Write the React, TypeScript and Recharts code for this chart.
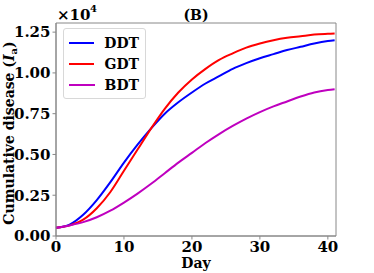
import { LineChart, Line, XAxis, YAxis, ReferenceArea } from "recharts";

const days = [0, 2, 4, 6, 8, 10, 12, 14, 16, 18, 20, 22, 24, 26, 28, 30, 32, 34, 36, 38, 40, 41];
const ddt = [0.05, 0.07, 0.13, 0.22, 0.33, 0.45, 0.56, 0.66, 0.75, 0.82, 0.88, 0.935, 0.98, 1.025, 1.06, 1.09, 1.115, 1.14, 1.16, 1.18, 1.195, 1.2];
const gdt = [0.05, 0.065, 0.1, 0.17, 0.27, 0.4, 0.53, 0.66, 0.78, 0.88, 0.96, 1.025, 1.08, 1.12, 1.155, 1.18, 1.2, 1.215, 1.225, 1.235, 1.24, 1.242];
const bdt = [0.05, 0.065, 0.085, 0.115, 0.155, 0.205, 0.26, 0.32, 0.385, 0.45, 0.51, 0.57, 0.625, 0.675, 0.72, 0.76, 0.795, 0.825, 0.855, 0.88, 0.895, 0.9];
const yTicks = [0, 0.25, 0.5, 0.75, 1.0, 1.25];
const xTicks = [0, 10, 20, 30, 40];

const series = [
  { key: "DDT", color: "#0000ff" },
  { key: "GDT", color: "#ff0000" },
  { key: "BDT", color: "#bf00bf" },
];

const data = days.map((d, i) => ({ day: d, DDT: ddt[i], GDT: gdt[i], BDT: bdt[i] }));

const FONT = "'DejaVu Serif', serif";
const AXIS = "#888888";

function LegendBox() {
  return (
    <div
      style={{
        position: "absolute",
        left: 63,
        top: 28,
        width: 70,
        border: "1px solid #d8d8d8",
        borderRadius: 3,
        background: "#fff",
        padding: "3px 6px 3px 5px",
        fontFamily: FONT,
        fontWeight: "bold",
        fontSize: 14,
      }}
    >
      {series.map((s) => (
        <div key={s.key} style={{ display: "flex", alignItems: "center", height: 21 }}>
          <div style={{ width: 29, height: 2, background: s.color, marginRight: 10 }} />
          <span>{s.key}</span>
        </div>
      ))}
    </div>
  );
}

export default function App() {
  return (
    <div style={{ position: "absolute", left: 0, top: 0, width: 374, height: 273, background: "#fff" }}>
      <LineChart width={374} height={273} data={data} margin={{ top: 23, right: 38, bottom: 0, left: 0 }}>
        <XAxis
          dataKey="day"
          type="number"
          domain={[0, 41.2]}
          ticks={xTicks}
          stroke={AXIS}
          tickSize={3.5}
          height={37}
          tick={{ fill: "#000", fontFamily: FONT, fontWeight: "bold", fontSize: 15 }}
        />
        <YAxis
          type="number"
          domain={[0, 1.306]}
          ticks={yTicks}
          stroke={AXIS}
          tickSize={3.5}
          width={56}
          tickFormatter={(v) => Number(v).toFixed(2)}
          tick={{ fill: "#000", fontFamily: FONT, fontWeight: "bold", fontSize: 15 }}
        />
        <ReferenceArea x1={0} x2={41.2} y1={0} y2={1.306} fill="none" stroke={AXIS} strokeWidth={1} />
        {series.map((s) => (
          <Line
            key={s.key}
            dataKey={s.key}
            type="monotone"
            stroke={s.color}
            strokeWidth={2}
            dot={false}
            isAnimationActive={false}
          />
        ))}
        <text x={57} y={20} fontFamily={FONT} fontWeight="bold" fontSize={15} fill="#000">
          ×10
        </text>
        <text x={90} y={12} fontFamily={FONT} fontWeight="bold" fontSize={10} fill="#000">
          4
        </text>
        <text x={196} y={20} textAnchor="middle" fontFamily={FONT} fontWeight="bold" fontSize={14} fill="#000">
          (B)
        </text>
        <text x={196} y={268} textAnchor="middle" fontFamily={FONT} fontWeight="bold" fontSize={14} fill="#000">
          Day
        </text>
        <text
          x={0}
          y={0}
          transform="translate(14,133) rotate(-90)"
          textAnchor="middle"
          fontFamily={FONT}
          fontWeight="bold"
          fontSize={14}
          fill="#000"
        >
          Cumulative disease (
          <tspan fontStyle="italic">I</tspan>
          <tspan fontSize={10} dy={3}>a</tspan>
          <tspan dy={-3}>)</tspan>
        </text>
      </LineChart>
      <LegendBox />
    </div>
  );
}
